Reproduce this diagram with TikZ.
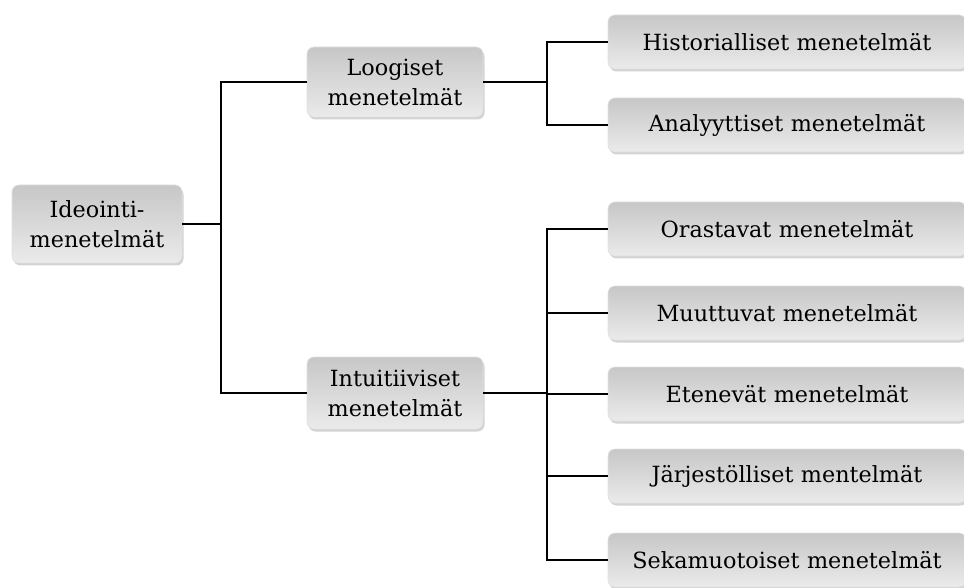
\documentclass[tikz,border=0pt]{standalone}
\usepackage{fontspec}
\setmainfont{DejaVu Serif}
\usepackage{tikz}
\usetikzlibrary{shadows}
\tikzstyle{box}=[rounded corners=7pt,top color=black!22,bottom color=black!8,draw=black!12,line width=0.6pt,align=center,inner sep=0pt,font=\fontsize{22.3}{30}\selectfont,drop shadow={shadow xshift=1.5pt,shadow yshift=-2.5pt,opacity=0.35}]
\tikzstyle{wide box}=[box,text width=358pt,minimum height=54pt]
\tikzstyle{conn}=[draw,line width=1.6pt,-]

\begin{document}
\begin{tikzpicture}[x=1pt,y=-1pt]
        \useasboundingbox (0,0) rectangle (964,588);
        \clip (0,0) rectangle (964,588);
        \node[box,text width=170pt,minimum height=78pt] (idea) at (97,224) {Ideointi-\\menetelmät};
        \node[box,text width=176pt,minimum height=70pt] (log) at (395,82) {Loogiset\\menetelmät};
        \node[box,text width=176pt,minimum height=72pt] (int) at (395,393) {Intuitiiviset\\menetelmät};
        \node[wide box] (h) at (787,42) {Historialliset menetelmät};
        \node[wide box] (an) at (787,125) {Analyyttiset menetelmät};
        \node[wide box] (o) at (787,229) {Orastavat menetelmät};
        \node[wide box] (mu) at (787,313) {Muuttuvat menetelmät};
        \node[wide box] (e) at (787,394) {Etenevät menetelmät};
        \node[wide box] (j) at (787,476) {Järjestölliset mentelmät};
        \node[wide box] (s) at (787,560) {Sekamuotoiset menetelmät};
        \coordinate (k1) at (221,224);
        \coordinate (k2) at (547,82);
        \coordinate (k3) at (547,393);
        \draw[conn] (idea) -- (k1);
        \draw[conn] (k1) |- (log);
        \draw[conn] (k1) |- (int);
        \draw[conn] (log) -- (k2);
        \draw[conn] (k2) |- (h);
        \draw[conn] (k2) |- (an);
        \draw[conn,line width=2.4pt] (int) -- (k3);
        \draw[conn] (k3) |- (o);
        \draw[conn] (k3) |- (mu);
        \draw[conn] (k3) |- (e);
        \draw[conn] (k3) |- (j);
        \draw[conn] (k3) |- (s);
      \end{tikzpicture}
\end{document}
